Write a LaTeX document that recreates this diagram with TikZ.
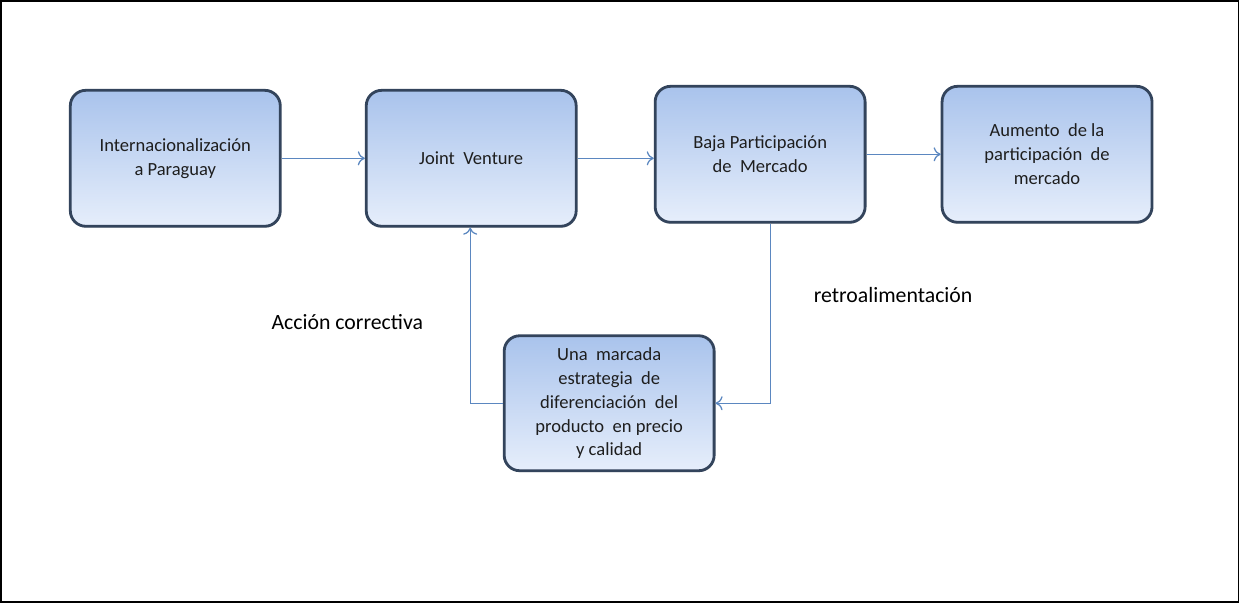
\documentclass[tikz,border=0pt]{standalone}
\usepackage{fontspec}
\setmainfont{Carlito}
\usetikzlibrary{shadows,arrows.meta}
\definecolor{boxtop}{HTML}{A9C3EC}
\definecolor{boxbot}{HTML}{E6EEFB}
\definecolor{boxedge}{HTML}{33445C}
\definecolor{arr}{HTML}{5B87C0}
\definecolor{txt}{HTML}{1E1E1E}
\tikzset{
  box/.style={rounded corners=11pt, draw=boxedge, line width=2pt,
    top color=boxtop, bottom color=boxbot, minimum width=210*0.025cm, minimum height=136*0.025cm,
    align=center, text=txt, font=\fontsize{13.2}{17}\selectfont,
    drop shadow={shadow xshift=0.5pt, shadow yshift=-1pt, opacity=0.35}},
  conn/.style={draw=arr, line width=0.9pt, -{To[length=5pt,width=10pt]}},
  lbl/.style={text=black, font=\fontsize{15.5}{18}\selectfont}
}
\begin{document}
\begin{tikzpicture}[x=0.025cm,y=-0.025cm]
\draw[black, line width=1.2pt, fill=white] (0.5,0.5) rectangle (1238.5,601.5);
\useasboundingbox (0,0) rectangle (1240,602);
\node[box] (a) at (175,158) {Internacionalización\\a Paraguay};
\node[box] (b) at (471,158) {Joint\ \ Venture};
\node[box] (c) at (760,154) {Baja Participación\\de\ \ Mercado};
\node[box] (d) at (1047,154) {Aumento\ \ de la\\participación\ \ de\\mercado};
\node[box, minimum height=135*0.025cm] (e) at (609,403) {Una\ \ marcada\\estrategia\ \ de\\diferenciación\ \ del\\producto\ \ en precio\\y calidad};
\draw[conn] (a.east) -- (b.west);
\draw[conn] (b.east) -- (c.west|-b.east);
\draw[conn] (c.east) -- (d.west);
\draw[conn] (770,0|-c.south) -- (770,0|-e.east) -- (e.east);
\draw[conn] (e.west) -- (470,0|-e.west) -- (470,0|-b.south);
\node[lbl] (l1) at (347,322) {Acción correctiva};
\node[lbl] (l2) at (893,295) {retroalimentación};
\end{tikzpicture}
\end{document}
